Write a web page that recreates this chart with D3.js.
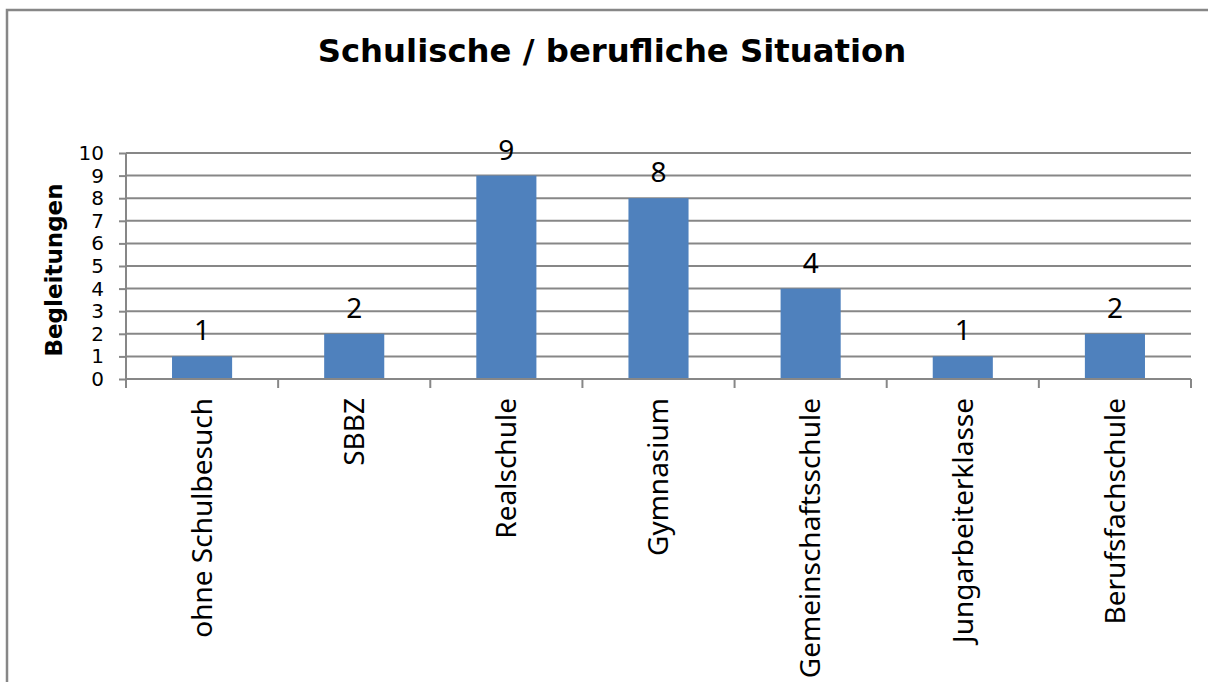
<!DOCTYPE html>
<meta charset="utf-8">
<style>
  body { margin: 0; background: #fff; }
  svg { display: block; }
  .tick text { fill: #000; }
</style>
<svg width="1208" height="682"></svg>
<script src="https://cdn.jsdelivr.net/npm/d3@7/dist/d3.min.js"></script>
<script>

var categories = ["ohne Schulbesuch", "SBBZ", "Realschule", "Gymnasium",
                  "Gemeinschaftsschule", "Jungarbeiterklasse", "Berufsfachschule"];
var values = [1, 2, 9, 8, 4, 1, 2];
var yTicks = [0, 1, 2, 3, 4, 5, 6, 7, 8, 9, 10];

var svg = d3.select("svg"),
    margin = {top: 153, right: 17, bottom: 303, left: 126},
    width = +svg.attr("width") - margin.left - margin.right,
    height = +svg.attr("height") - margin.top - margin.bottom,
    g = svg.append("g").attr("transform", "translate(" + margin.left + "," + margin.top + ")");

var gridColor = "#878787";

// outer chart frame, runs off the right and bottom edges
svg.append("rect")
    .attr("x", 7).attr("y", 10)
    .attr("width", 1300).attr("height", 800)
    .attr("fill", "none")
    .attr("stroke", gridColor)
    .attr("stroke-width", 2.5);

svg.append("text")
    .attr("x", 612).attr("y", 62)
    .attr("text-anchor", "middle")
    .style("font-family", "DejaVu Sans")
    .style("font-weight", "bold")
    .style("font-size", "32.3px")
    .text("Schulische / berufliche Situation");

var x = d3.scaleBand().domain(categories).range([0, width]).padding(0);
var y = d3.scaleLinear().domain([0, 10]).range([height, 0]);

// horizontal gridlines
g.selectAll(".grid")
  .data(yTicks.slice(1))
  .enter().append("line")
    .attr("class", "grid")
    .attr("x1", 0).attr("x2", width)
    .attr("y1", function(d) { return y(d); })
    .attr("y2", function(d) { return y(d); })
    .attr("stroke", gridColor)
    .attr("stroke-width", 2);

// bars
var barW = x.bandwidth() * 0.395;
g.selectAll(".bar")
  .data(values)
  .enter().append("rect")
    .attr("class", "bar")
    .attr("x", function(d, i) { return x(categories[i]) + (x.bandwidth() - barW) / 2; })
    .attr("y", function(d) { return y(d); })
    .attr("width", barW)
    .attr("height", function(d) { return y(0) - y(d); })
    .attr("fill", "#4F81BD");

// value labels
g.selectAll(".val")
  .data(values)
  .enter().append("text")
    .attr("class", "val")
    .attr("x", function(d, i) { return x(categories[i]) + x.bandwidth() / 2; })
    .attr("y", function(d) { return y(d) - 16; })
    .attr("text-anchor", "middle")
    .style("font-family", "Noto Sans")
    .style("font-size", "28px")
    .text(function(d) { return d; });

// y axis
var yAxis = g.append("g")
    .call(d3.axisLeft(y).tickValues(yTicks).tickSize(7).tickPadding(15));
yAxis.selectAll("path, line").attr("stroke", gridColor).attr("stroke-width", 2);
yAxis.select(".domain").attr("d", "M0," + y(10) + "V" + y(0));
yAxis.selectAll("text")
    .style("font-family", "DejaVu Sans")
    .style("font-size", "20px");

// x axis: ticks at band boundaries
var xAxis = g.append("g").attr("transform", "translate(0," + height + ")");
xAxis.append("line")
    .attr("x1", 0).attr("x2", width)
    .attr("stroke", gridColor).attr("stroke-width", 2);
xAxis.selectAll(".xt")
  .data(categories.concat([null]))
  .enter().append("line")
    .attr("class", "xt")
    .attr("x1", function(d, i) { return i * x.step(); })
    .attr("x2", function(d, i) { return i * x.step(); })
    .attr("y1", 0).attr("y2", 9)
    .attr("stroke", gridColor).attr("stroke-width", 2);
xAxis.selectAll(".xl")
  .data(categories)
  .enter().append("text")
    .attr("class", "xl")
    .attr("transform", function(d) {
      return "translate(" + (x(d) + x.bandwidth() / 2) + ",19)rotate(-90)";
    })
    .attr("dy", "0.35em")
    .attr("text-anchor", "end")
    .style("font-family", "Noto Sans")
    .style("font-size", "28px")
    .text(function(d) { return d; });

svg.append("text")
    .attr("transform", "translate(62,270)rotate(-90)")
    .attr("text-anchor", "middle")
    .style("font-family", "DejaVu Sans")
    .style("font-weight", "bold")
    .style("font-size", "23px")
    .text("Begleitungen");
</script>
